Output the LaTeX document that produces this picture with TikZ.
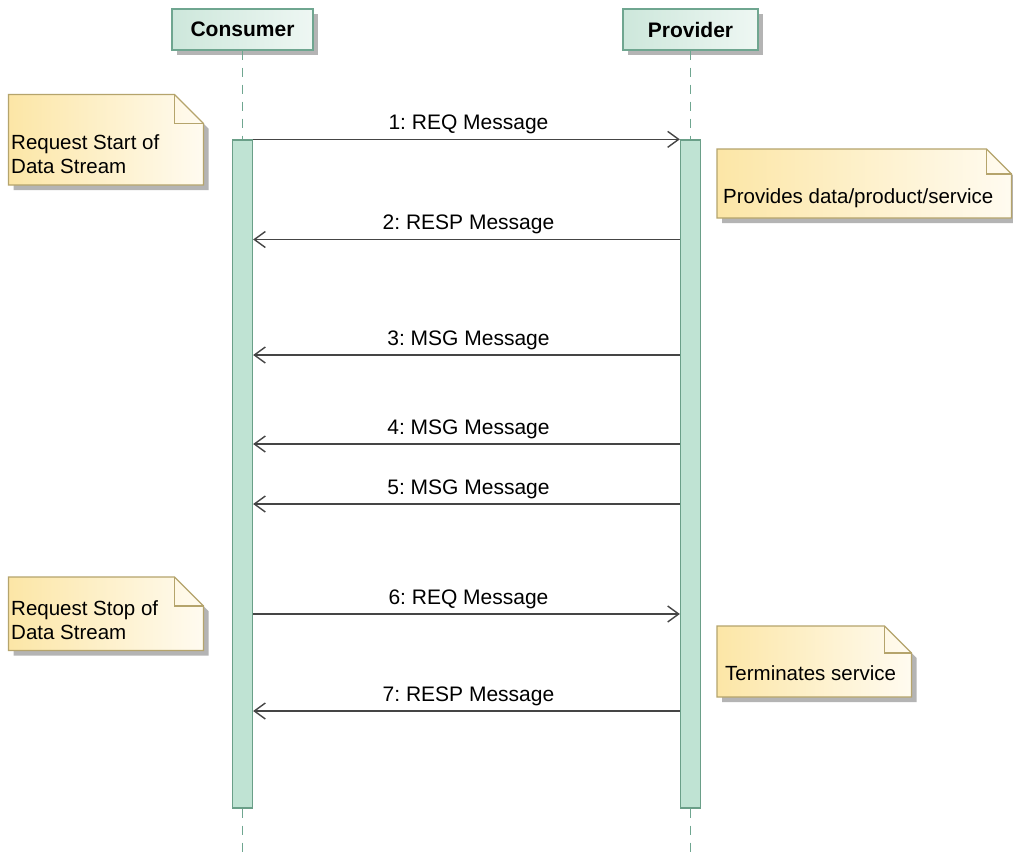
\documentclass[tikz,border=0pt]{standalone}
\usepackage{fontspec}
\setmainfont{Liberation Sans}
\frenchspacing
\usetikzlibrary{arrows.meta,shadows}
\definecolor{lineG}{HTML}{6FA690}
\definecolor{headL}{HTML}{CDE7DB}
\definecolor{headR}{HTML}{EEF7F3}
\definecolor{barF}{HTML}{BFE3D3}
\definecolor{barD}{HTML}{6A9F88}
\definecolor{msgC}{HTML}{454545}
\definecolor{noteL}{HTML}{FCE6A6}
\definecolor{noteR}{HTML}{FFFBF0}
\definecolor{noteD}{HTML}{B5A46C}
\definecolor{shadowC}{HTML}{B4B4B4}
\newcommand\mynote[5]{%
  \fill[shadowC] ({#1+5},{#2+5}) -- ({#3-#5+5},{#2+5}) -- ({#3+5},{#2+#5+5}) -- ({#3+5},{#4+5}) -- ({#1+5},{#4+5}) -- cycle;
  \shade[left color=noteL,right color=noteR] (#1,#2) -- ({#3-#5},#2) -- (#3,{#2+#5}) -- (#3,#4) -- (#1,#4) -- cycle;
  \draw[noteD,line width=1.2pt,line join=miter] (#1,#2) -- ({#3-#5},#2) -- (#3,{#2+#5}) -- (#3,#4) -- (#1,#4) -- cycle;
  \draw[noteD,line width=1.2pt] ({#3-#5},#2) -- ({#3-#5},{#2+#5}) -- (#3,{#2+#5});
}
\begin{document}
\begin{tikzpicture}[x=1pt,y=-1pt,
  head/.style={draw=lineG,line width=1.3pt,left color=headL,right color=headR,
    minimum height=41pt,inner sep=0pt,
    font=\fontsize{21}{24}\selectfont\bfseries,
    drop shadow={shadow xshift=5pt,shadow yshift=-5pt,fill=shadowC,opacity=1}},
  bar/.style={draw=barD,line width=1.3pt,fill=barF,minimum width=20pt,minimum height=668pt,inner sep=0pt},
  life/.style={draw=lineG,line width=1.7pt,dash pattern=on 9pt off 8pt},
  msg/.style={draw=msgC,line width=1.4pt,-{Straight Barb[length=11pt,width=16pt,line width=1.4pt]}},
  lbl/.style={midway,anchor=base,yshift=10pt,xshift=2pt,inner sep=0pt,font=\fontsize{21}{24}\selectfont},
  notetxt/.style={anchor=west,align=left,inner sep=0pt,font=\fontsize{20.5}{24}\selectfont}]
\useasboundingbox (0,0) rectangle (1013,857);
\fill[white] (0,0) rectangle (1013,857);

% lifeline heads
\node[head,minimum width=141pt] (cons) at (242.5,29.5) {Consumer};
\node[head,minimum width=135pt] (prov) at (690.5,29.5) {Provider};

% activation bars
\node[bar] (cbar) at (242.5,474) {};
\node[bar] (pbar) at (690.5,474) {};
\coordinate (cend) at (242.5,857);
\coordinate (pend) at (690.5,857);

\draw[life] (cons.south) -- (cbar.north);
\draw[life] (prov.south) -- (pbar.north);
\draw[life] (cbar.south) -- (cend);
\draw[life] (pbar.south) -- (pend);

% messages
\draw[msg] (cbar.north east) -- (pbar.north west) node[lbl] {1: REQ Message};
\draw[msg] (pbar.west |- 0,239.5) -- (cbar.east |- 0,239.5) node[lbl] {2: RESP Message};
\draw[msg] (pbar.west |- 0,355) -- (cbar.east |- 0,355) node[lbl] {3: MSG Message};
\draw[msg] (pbar.west |- 0,444) -- (cbar.east |- 0,444) node[lbl] {4: MSG Message};
\draw[msg] (pbar.west |- 0,504) -- (cbar.east |- 0,504) node[lbl] {5: MSG Message};
\draw[msg] (cbar.east |- 0,614) -- (pbar.west |- 0,614) node[lbl] {6: REQ Message};
\draw[msg] (pbar.west |- 0,711) -- (cbar.east |- 0,711) node[lbl] {7: RESP Message};

% notes
\mynote{8.5}{94.5}{203.5}{185}{29}
\node[notetxt] (n1) at (11,154.5) {Request Start of\\Data Stream};
\mynote{717}{149}{1011.5}{218}{25}
\node[notetxt] (n2) at (723,198) {Provides data/product/service};
\mynote{8.5}{577}{203.5}{650.5}{29}
\node[notetxt] (n3) at (11,620) {Request Stop of\\Data Stream};
\mynote{717}{626}{911.5}{697}{27}
\node[notetxt] (n4) at (725,673.5) {Terminates service};
\end{tikzpicture}
\end{document}
